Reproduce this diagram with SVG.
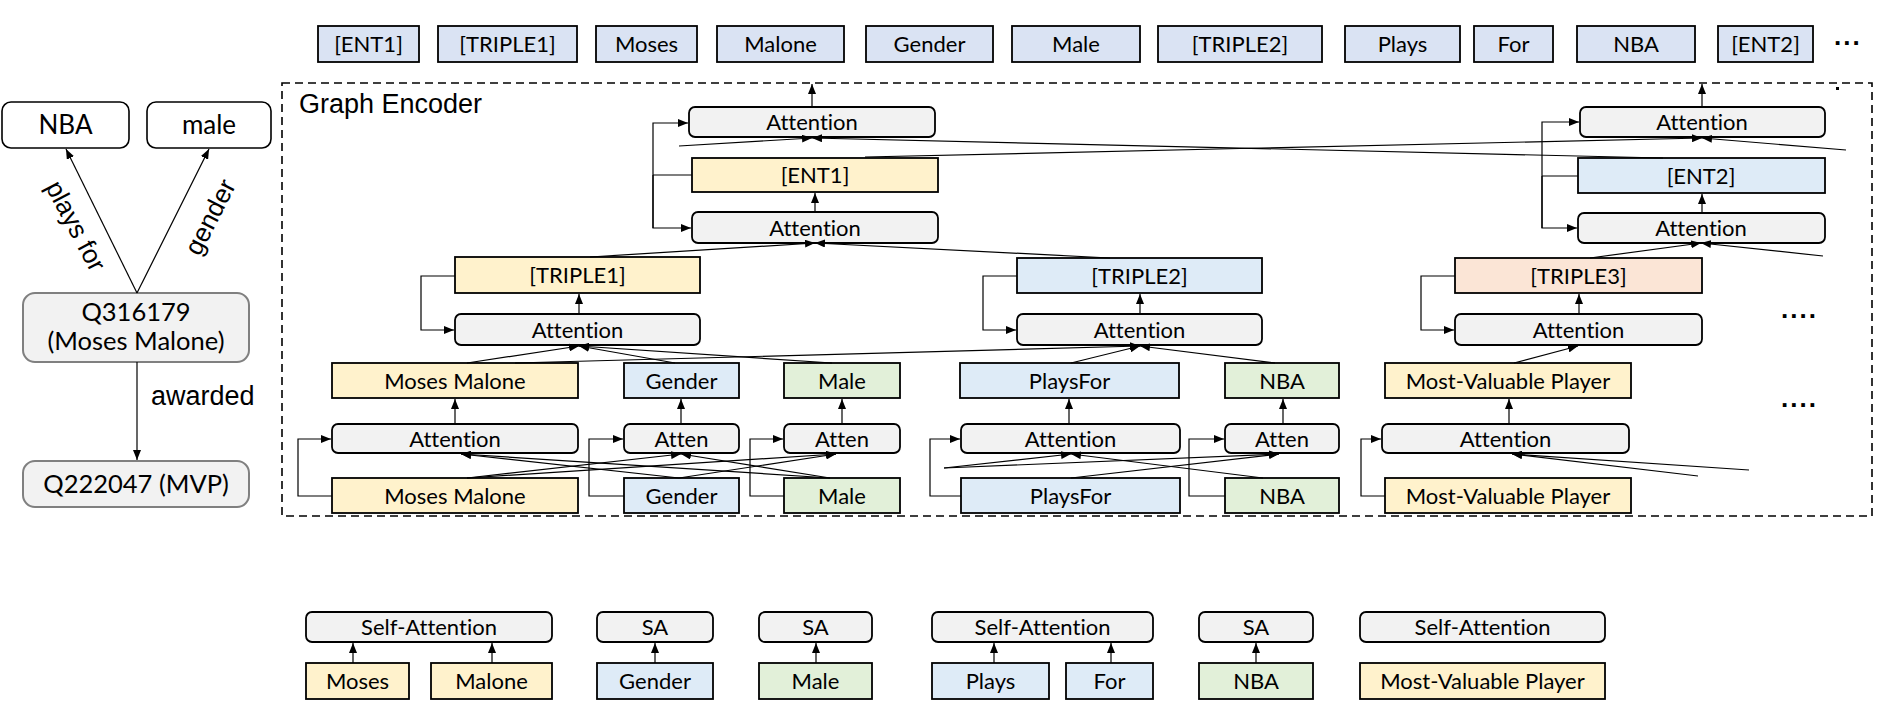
<svg xmlns="http://www.w3.org/2000/svg" width="1892" height="710" viewBox="0 0 1892 710">
<defs>
<style>
.tok{fill:#dae3f3;stroke:#000;stroke-width:1.8}
.att{fill:#f2f2f2;stroke:#000;stroke-width:1.8}
.y{fill:#fff2cc;stroke:#000;stroke-width:1.8}
.b{fill:#deebf7;stroke:#000;stroke-width:1.8}
.g{fill:#e2f0d9;stroke:#000;stroke-width:1.8}
.o{fill:#fbe5d6;stroke:#000;stroke-width:1.8}
.ent{fill:#fff;stroke:#000;stroke-width:1.6}
.q{fill:#f2f2f2;stroke:#808080;stroke-width:2}
text{font-family:Lato,"Open Sans","Liberation Sans",sans-serif;fill:#000;font-variant-ligatures:none}
.t{font-size:22px;text-anchor:middle}
.lq{font-size:25.5px;text-anchor:middle}
.h{font-family:"Liberation Sans",Arial,sans-serif;font-size:27px}
.dots{font-family:"Liberation Sans",Arial,sans-serif;font-size:26px;font-weight:bold;letter-spacing:2px}
.c{fill:none;stroke:#000;stroke-width:1.2}
.a{marker-end:url(#ah)}
</style>
<marker id="ah" viewBox="0 0 10 8" refX="10" refY="4" markerWidth="10" markerHeight="8" markerUnits="userSpaceOnUse" orient="auto"><path d="M0,0L10,4L0,8z" fill="#000"/></marker>
</defs>
<rect width="1892" height="710" fill="#fff"/>

<!-- Left knowledge graph -->
<g id="kg-nba"><rect class="ent" x="2" y="102" width="127" height="46" rx="9"/><text class="t" style="font-size:26px" x="65.5" y="134">NBA</text></g>
<g id="kg-male"><rect class="ent" x="147" y="102" width="124" height="46" rx="9"/><text class="t" style="font-size:26px" x="209" y="134">male</text></g>
<g id="kg-q316179"><rect class="q" x="23" y="293" width="226" height="69" rx="12"/><text class="lq" x="136" y="321">Q316179</text><text class="lq" x="136" y="350">(Moses Malone)</text></g>
<g id="kg-q222047"><rect class="q" x="23" y="461" width="226" height="46" rx="12"/><text class="lq" x="136" y="493">Q222047 (MVP)</text></g>

<!-- Top output tokens -->
<g id="out-ent1"><rect class="tok" x="318" y="26" width="101" height="36"/><text class="t" x="368.5" y="52">[ENT1]</text></g>
<g id="out-triple1"><rect class="tok" x="438" y="26" width="139" height="36"/><text class="t" x="507.5" y="52">[TRIPLE1]</text></g>
<g id="out-moses"><rect class="tok" x="596" y="26" width="101" height="36"/><text class="t" x="646.5" y="52">Moses</text></g>
<g id="out-malone"><rect class="tok" x="717" y="26" width="127" height="36"/><text class="t" x="780.5" y="52">Malone</text></g>
<g id="out-gender"><rect class="tok" x="866" y="26" width="127" height="36"/><text class="t" x="929.5" y="52">Gender</text></g>
<g id="out-male"><rect class="tok" x="1012" y="26" width="128" height="36"/><text class="t" x="1076" y="52">Male</text></g>
<g id="out-triple2"><rect class="tok" x="1158" y="26" width="164" height="36"/><text class="t" x="1240" y="52">[TRIPLE2]</text></g>
<g id="out-plays"><rect class="tok" x="1345" y="26" width="115" height="36"/><text class="t" x="1402.5" y="52">Plays</text></g>
<g id="out-for"><rect class="tok" x="1474" y="26" width="79" height="36"/><text class="t" x="1513.5" y="52">For</text></g>
<g id="out-nba"><rect class="tok" x="1577" y="26" width="118" height="36"/><text class="t" x="1636" y="52">NBA</text></g>
<g id="out-ent2"><rect class="tok" x="1718" y="26" width="95" height="36"/><text class="t" x="1765.5" y="52">[ENT2]</text></g>
<text class="dots" x="1834" y="45">...</text>

<!-- Graph Encoder frame -->
<g id="graph-encoder">
<rect x="282" y="83" width="1590" height="433" fill="none" stroke="#000" stroke-width="1.6" stroke-dasharray="8,5"/>
<rect x="1836" y="87" width="3" height="3" fill="#000"/>
<text class="h" x="299" y="113">Graph Encoder</text>
</g>

<!-- Entity level -->
<g id="attn-ent1-top"><rect class="att" x="689" y="107" width="246" height="30" rx="6"/><text class="t" x="812" y="130">Attention</text></g>
<g id="ent1"><rect class="y" x="692" y="158" width="246" height="34"/><text class="t" x="815" y="183">[ENT1]</text></g>
<g id="attn-ent1-bot"><rect class="att" x="692" y="212" width="246" height="31" rx="6"/><text class="t" x="815" y="236">Attention</text></g>
<g id="attn-ent2-top"><rect class="att" x="1580" y="107" width="245" height="30" rx="6"/><text class="t" x="1702" y="130">Attention</text></g>
<g id="ent2"><rect class="b" x="1578" y="158" width="247" height="35"/><text class="t" x="1701" y="184">[ENT2]</text></g>
<g id="attn-ent2-bot"><rect class="att" x="1578" y="213" width="247" height="30" rx="6"/><text class="t" x="1701" y="236">Attention</text></g>

<!-- Triple level -->
<g id="triple1"><rect class="y" x="455" y="257" width="245" height="36"/><text class="t" x="577.5" y="283">[TRIPLE1]</text></g>
<g id="attn-t1"><rect class="att" x="455" y="314" width="245" height="31" rx="6"/><text class="t" x="577.5" y="338">Attention</text></g>
<g id="triple2"><rect class="b" x="1017" y="258" width="245" height="35"/><text class="t" x="1139.5" y="284">[TRIPLE2]</text></g>
<g id="attn-t2"><rect class="att" x="1017" y="314" width="245" height="31" rx="6"/><text class="t" x="1139.5" y="338">Attention</text></g>
<g id="triple3"><rect class="o" x="1455" y="258" width="247" height="35"/><text class="t" x="1578.5" y="284">[TRIPLE3]</text></g>
<g id="attn-t3"><rect class="att" x="1455" y="314" width="247" height="31" rx="6"/><text class="t" x="1578.5" y="338">Attention</text></g>
<text class="dots" x="1781" y="318">....</text>
<text class="dots" x="1781" y="407">....</text>

<!-- Word level, upper -->
<g id="mm-up"><rect class="y" x="332" y="363" width="246" height="35"/><text class="t" x="455" y="389">Moses Malone</text></g>
<g id="gender-up"><rect class="b" x="624" y="363" width="115" height="35"/><text class="t" x="681.5" y="389">Gender</text></g>
<g id="male-up"><rect class="g" x="784" y="363" width="116" height="35"/><text class="t" x="842" y="389">Male</text></g>
<g id="pf-up"><rect class="b" x="960" y="363" width="219" height="35"/><text class="t" x="1069.5" y="389">PlaysFor</text></g>
<g id="nba-up"><rect class="g" x="1225" y="363" width="114" height="35"/><text class="t" x="1282" y="389">NBA</text></g>
<g id="mvp-up"><rect class="y" x="1385" y="363" width="246" height="35"/><text class="t" x="1508" y="389">Most-Valuable Player</text></g>

<!-- Word level, attention -->
<g id="attn-mm"><rect class="att" x="332" y="424" width="246" height="29" rx="6"/><text class="t" x="455" y="446.5">Attention</text></g>
<g id="attn-gender"><rect class="att" x="624" y="424" width="115" height="29" rx="6"/><text class="t" x="681.5" y="446.5">Atten</text></g>
<g id="attn-male"><rect class="att" x="784" y="424" width="116" height="29" rx="6"/><text class="t" x="842" y="446.5">Atten</text></g>
<g id="attn-pf"><rect class="att" x="961" y="424" width="219" height="29" rx="6"/><text class="t" x="1070.5" y="446.5">Attention</text></g>
<g id="attn-nba"><rect class="att" x="1225" y="424" width="114" height="29" rx="6"/><text class="t" x="1282" y="446.5">Atten</text></g>
<g id="attn-mvp"><rect class="att" x="1382" y="424" width="247" height="29" rx="6"/><text class="t" x="1505.5" y="446.5">Attention</text></g>

<!-- Word level, lower -->
<g id="mm-low"><rect class="y" x="332" y="478" width="246" height="35"/><text class="t" x="455" y="504">Moses Malone</text></g>
<g id="gender-low"><rect class="b" x="624" y="478" width="115" height="35"/><text class="t" x="681.5" y="504">Gender</text></g>
<g id="male-low"><rect class="g" x="784" y="478" width="116" height="35"/><text class="t" x="842" y="504">Male</text></g>
<g id="pf-low"><rect class="b" x="961" y="478" width="219" height="35"/><text class="t" x="1070.5" y="504">PlaysFor</text></g>
<g id="nba-low"><rect class="g" x="1225" y="478" width="114" height="35"/><text class="t" x="1282" y="504">NBA</text></g>
<g id="mvp-low"><rect class="y" x="1385" y="478" width="246" height="35"/><text class="t" x="1508" y="504">Most-Valuable Player</text></g>

<!-- Bottom: token self-attention -->
<g id="sa-mm"><rect class="att" x="306" y="612" width="246" height="30" rx="6"/><text class="t" x="429" y="635">Self-Attention</text></g>
<g id="tok-moses"><rect class="y" x="306" y="663" width="103" height="36"/><text class="t" x="357.5" y="689">Moses</text></g>
<g id="tok-malone"><rect class="y" x="431" y="663" width="121" height="36"/><text class="t" x="491.5" y="689">Malone</text></g>
<g id="sa-gender"><rect class="att" x="597" y="612" width="116" height="30" rx="6"/><text class="t" x="655" y="635">SA</text></g>
<g id="tok-gender"><rect class="b" x="597" y="663" width="116" height="36"/><text class="t" x="655" y="689">Gender</text></g>
<g id="sa-male"><rect class="att" x="759" y="612" width="113" height="30" rx="6"/><text class="t" x="815.5" y="635">SA</text></g>
<g id="tok-male"><rect class="g" x="759" y="663" width="113" height="36"/><text class="t" x="815.5" y="689">Male</text></g>
<g id="sa-pf"><rect class="att" x="932" y="612" width="221" height="30" rx="6"/><text class="t" x="1042.5" y="635">Self-Attention</text></g>
<g id="tok-plays"><rect class="b" x="932" y="663" width="117" height="36"/><text class="t" x="990.5" y="689">Plays</text></g>
<g id="tok-for"><rect class="b" x="1066" y="663" width="87" height="36"/><text class="t" x="1109.5" y="689">For</text></g>
<g id="sa-nba"><rect class="att" x="1199" y="612" width="114" height="30" rx="6"/><text class="t" x="1256" y="635">SA</text></g>
<g id="tok-nba"><rect class="g" x="1199" y="663" width="114" height="36"/><text class="t" x="1256" y="689">NBA</text></g>
<g id="sa-mvp"><rect class="att" x="1360" y="612" width="245" height="30" rx="6"/><text class="t" x="1482.5" y="635">Self-Attention</text></g>
<g id="tok-mvp"><rect class="y" x="1360" y="663" width="245" height="36"/><text class="t" x="1482.5" y="689">Most-Valuable Player</text></g>

<!-- Connectors -->
<g id="connectors">
<!-- knowledge graph -->
<line class="c a" x1="137" y1="293" x2="66" y2="149"/>
<line class="c a" x1="137" y1="293" x2="209" y2="149"/>
<line class="c a" x1="137" y1="362" x2="137" y2="460"/>
<text class="h" style="font-size:26px" text-anchor="middle" transform="translate(68,230) rotate(62)">plays for</text>
<text class="h" style="font-size:26px" text-anchor="middle" transform="translate(218,221) rotate(-63)">gender</text>
<text class="h" x="151" y="405">awarded</text>

<!-- entity level -->
<line class="c a" x1="812" y1="107" x2="812" y2="84"/>
<line class="c a" x1="815" y1="212" x2="815" y2="193"/>
<polyline class="c" points="692,175 653,175"/>
<polyline class="c a" points="653,228 653,123 688,123"/>
<polyline class="c a" points="653,175 653,228 691,228"/>
<line class="c a" x1="1702" y1="107" x2="1702" y2="84"/>
<line class="c a" x1="1702" y1="213" x2="1702" y2="194"/>
<polyline class="c" points="1578,176 1542,176"/>
<polyline class="c a" points="1542,228 1542,122 1579,122"/>
<polyline class="c a" points="1542,176 1542,228 1577,228"/>
<line class="c a" x1="679" y1="146" x2="812" y2="138"/>
<line class="c a" x1="1663" y1="158" x2="812" y2="138"/>
<line class="c a" x1="865" y1="157" x2="1702" y2="138"/>
<line class="c a" x1="1846" y1="150" x2="1702" y2="138"/>
<line class="c a" x1="590" y1="257" x2="815" y2="243"/>
<line class="c a" x1="1110" y1="258" x2="815" y2="243"/>
<line class="c a" x1="1590" y1="258" x2="1701" y2="243"/>
<line class="c a" x1="1823" y1="256" x2="1701" y2="243"/>

<!-- triple level -->
<line class="c a" x1="579" y1="314" x2="579" y2="294"/>
<polyline class="c a" points="455,276 421,276 421,330 454,330"/>
<line class="c a" x1="1140" y1="314" x2="1140" y2="294"/>
<polyline class="c a" points="1017,276 983,276 983,330 1016,330"/>
<line class="c a" x1="1579" y1="314" x2="1579" y2="294"/>
<polyline class="c a" points="1455,276 1421,276 1421,330 1454,330"/>
<line class="c a" x1="467" y1="363" x2="579" y2="346"/>
<line class="c a" x1="675" y1="363" x2="579" y2="346"/>
<line class="c a" x1="832" y1="363" x2="579" y2="346"/>
<line class="c a" x1="515" y1="363" x2="1140" y2="346"/>
<line class="c a" x1="1071" y1="363" x2="1140" y2="346"/>
<line class="c a" x1="1275" y1="363" x2="1140" y2="346"/>
<line class="c a" x1="1514" y1="363" x2="1578" y2="346"/>

<!-- word level: attention to upper -->
<line class="c a" x1="455" y1="424" x2="455" y2="399"/>
<line class="c a" x1="681" y1="424" x2="681" y2="399"/>
<line class="c a" x1="842" y1="424" x2="842" y2="399"/>
<line class="c a" x1="1069" y1="424" x2="1069" y2="399"/>
<line class="c a" x1="1283" y1="424" x2="1283" y2="399"/>
<line class="c a" x1="1509" y1="424" x2="1509" y2="399"/>

<!-- word level: residual feedback -->
<polyline class="c a" points="332,496 298,496 298,439 331,439"/>
<polyline class="c a" points="624,496 589,496 589,439 623,439"/>
<polyline class="c a" points="784,496 750,496 750,439 783,439"/>
<polyline class="c a" points="961,496 930,496 930,439 960,439"/>
<polyline class="c a" points="1225,496 1189,496 1189,439 1224,439"/>
<polyline class="c a" points="1385,496 1361,496 1361,439 1381,439"/>

<!-- word level: cross attention -->
<line class="c a" x1="679" y1="478" x2="461" y2="454"/>
<line class="c a" x1="830" y1="478" x2="461" y2="454"/>
<line class="c a" x1="467" y1="478" x2="681" y2="454"/>
<line class="c a" x1="830" y1="478" x2="681" y2="454"/>
<line class="c a" x1="467" y1="478" x2="836" y2="454"/>
<line class="c a" x1="679" y1="478" x2="836" y2="454"/>
<line class="c a" x1="944" y1="468" x2="1071" y2="454"/>
<line class="c a" x1="1263" y1="478" x2="1071" y2="454"/>
<line class="c a" x1="944" y1="468" x2="1279" y2="454"/>
<line class="c a" x1="1071" y1="478" x2="1279" y2="454"/>
<line class="c a" x1="1749" y1="470" x2="1512" y2="454"/>
<line class="c a" x1="1698" y1="476" x2="1512" y2="454"/>

<!-- bottom -->
<line class="c a" x1="353" y1="663" x2="353" y2="643"/>
<line class="c a" x1="492" y1="663" x2="492" y2="643"/>
<line class="c a" x1="655" y1="663" x2="655" y2="643"/>
<line class="c a" x1="816" y1="663" x2="816" y2="643"/>
<line class="c a" x1="994" y1="663" x2="994" y2="643"/>
<line class="c a" x1="1111" y1="663" x2="1111" y2="643"/>
<line class="c a" x1="1256" y1="663" x2="1256" y2="643"/>
</g>
</svg>
